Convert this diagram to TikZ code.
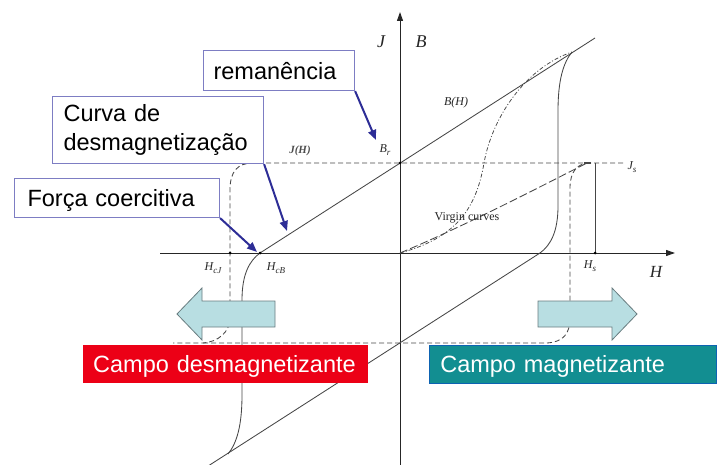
\documentclass[tikz,border=0pt]{standalone}
\usepackage{fontspec}
\setmainfont{Liberation Sans}
\newfontfamily\tnr{Liberation Serif}
\usetikzlibrary{arrows.meta}

\definecolor{boxline}{RGB}{125,125,195}
\definecolor{pointer}{RGB}{45,45,150}
\definecolor{fieldred}{RGB}{236,0,22}
\definecolor{fieldteal}{RGB}{18,142,145}
\definecolor{arrowfill}{RGB}{184,222,226}
\definecolor{arrowline}{RGB}{105,125,128}
\definecolor{curvegray}{RGB}{70,70,70}

\begin{document}
\begin{tikzpicture}[x=1pt,y=-1pt,
  axis/.style={draw=black!85, line width=1pt, -{Triangle[length=9pt,width=6pt]}},
  bloop/.style={draw=curvegray, line width=0.85pt},
  jloop/.style={draw=curvegray, line width=0.85pt, dash pattern=on 5pt off 3pt},
  virginB/.style={draw=curvegray, line width=0.75pt, dash pattern=on 4pt off 2pt on 1pt off 2pt},
  virginJ/.style={draw=curvegray, line width=0.85pt, dash pattern=on 8pt off 3pt},
  lab/.style={font=\tnr\itshape\fontsize{12}{14}\selectfont, inner sep=0pt, text=black!85},
  biglab/.style={font=\tnr\itshape\fontsize{18}{20}\selectfont, inner sep=0pt, text=black!85},
  callout/.style={draw=boxline, line width=1.1pt, fill=white, inner ysep=0pt,
    align=left, anchor=north west, font=\fontsize{23.5}{29}\selectfont},
  pointerarrow/.style={draw=pointer, line width=2pt, -{Triangle[length=10pt,width=8pt]}},
  fieldbox/.style={inner ysep=0pt, minimum height=38pt, text=white, align=left,
    anchor=north west, font=\fontsize{23.5}{28}\selectfont, text height=17pt, text depth=0pt},
  bigarrow/.style={fill=arrowfill, draw=arrowline, line width=0.8pt},
  dot/.style={circle, fill=black, inner sep=0pt, minimum size=3pt}
]
\useasboundingbox (0,0) rectangle (719,465);

% key points of the diagram
\coordinate (O)   at (400,253);
\coordinate (Br)  at (400,163);
\coordinate (HcB) at (260,253);
\coordinate (HcJ) at (230,253);
\coordinate (Hs)  at (595,253);
\coordinate (Js)  at (595,163);
\coordinate (Bsat) at (572,52);
\coordinate (Bneg) at (228,454);
\coordinate (HcBneg) at (540,253);

% axes
\draw[axis] (400,465) -- (400,12);
\draw[axis] (160,253) -- (675,253);

% B(H) loop: straight branches and the knees
\draw[bloop] (HcB) -- (595,38);
\draw[bloop] (205,468) -- (HcBneg);
\draw[bloop] (HcB) .. controls (249,261) and (242,275) .. (242,300)
  -- (242,395) .. controls (242,425) and (237,443) .. (Bneg);
\draw[bloop] (HcBneg) .. controls (551,245) and (558,231) .. (558,206)
  -- (558,111) .. controls (558,81) and (563,63) .. (Bsat);

% J(H) loop (dashed)
\draw[jloop] (623,163) -- (253,163) .. controls (237,163) and (230,172) .. (230,190)
  -- (230,318) .. controls (230,332) and (218,342) .. (203,343) -- (173,343);
\draw[jloop] (203,343) -- (547,343) .. controls (563,342) and (570,334) .. (570,318)
  -- (570,188) .. controls (570,172) and (577,163) .. (590,163);
\draw[curvegray, line width=2pt] (584,163) -- (591,163);

% saturation field marker
\draw[curvegray, line width=0.7pt] (Js) -- (Hs);

% virgin curves
\draw[virginB] (O) .. controls (455,238) and (476,210) .. (484,163)
  .. controls (492,118) and (525,68) .. (Bsat);
\draw[virginJ] (O) .. controls (460,228) and (530,192) .. (587,163);

% points
\node[dot] (dBr) at (Br) {};
\node[dot] (dHcB) at (HcB) {};
\node[dot] (dHcJ) at (HcJ) {};
\node[dot] (dHs) at (Hs) {};

% labels
\node[biglab] (lJ) at (381,42) {J};
\node[biglab] (lB) at (421,42) {B};
\node[lab] (lBH) at (456,103) {B(H)};
\node[lab, font=\tnr\bfseries\itshape\fontsize{11}{13}\selectfont, text=black!70] (lJH) at (300,151) {J(H)};
\node[lab] (lBr) at (385,150) {B\raisebox{-2.5pt}{\fontsize{9}{9}\selectfont r}};
\node[lab] (lJs) at (632,167) {J\raisebox{-2.5pt}{\fontsize{9}{9}\selectfont s}};
\node[lab] (lHcJ) at (213,268) {H\raisebox{-2.5pt}{\fontsize{9}{9}\selectfont cJ}};
\node[lab] (lHcB) at (276,268) {H\raisebox{-2.5pt}{\fontsize{9}{9}\selectfont cB}};
\node[lab] (lHs) at (590,266) {H\raisebox{-2.5pt}{\fontsize{9}{9}\selectfont s}};
\node[biglab, font=\tnr\itshape\fontsize{17}{19}\selectfont] (lH) at (656,272) {H};
\node[lab, font=\tnr\fontsize{12}{14}\selectfont] (lvirgin) at (467,218) {Virgin curves};

% callout boxes with pointers
\node[callout, inner xsep=10pt, text width=131pt, minimum height=40pt, text height=17pt, text depth=0pt]
  (rem) at (203,50) {remanência};
\node[callout, inner xsep=11pt, text width=189pt, minimum height=67pt]
  (curva) at (52,96) {Curva de\\desmagnetização};
\node[callout, inner xsep=13pt, text width=179pt, minimum height=39pt, text height=17pt, text depth=0pt]
  (forca) at (14,178) {Força coercitiva};

\coordinate (remtip) at (376,140);
\coordinate (curvatip) at (287,231);
\coordinate (forcatip) at (257,252);
\draw[pointerarrow] (rem.south east) -- (remtip);
\draw[pointerarrow] (curva.south east) -- (curvatip);
\draw[pointerarrow] (forca.south east) -- (forcatip);

% field direction arrows
\draw[bigarrow] (177,314) -- (202,288) -- (202,301) -- (275,301) -- (275,327)
  -- (202,327) -- (202,340) -- cycle;
\draw[bigarrow] (637,314) -- (612,288) -- (612,301) -- (538,301) -- (538,327)
  -- (612,327) -- (612,340) -- cycle;

% field boxes
\node[fieldbox, fill=fieldred, inner xsep=10pt, text width=265pt] (desm) at (83,345) {Campo desmagnetizante};
\node[fieldbox, fill=fieldteal, draw=fieldteal!70!blue, line width=0.6pt, inner xsep=11pt, text width=265pt] (magn) at (429,345) {Campo magnetizante};
\end{tikzpicture}
\end{document}
